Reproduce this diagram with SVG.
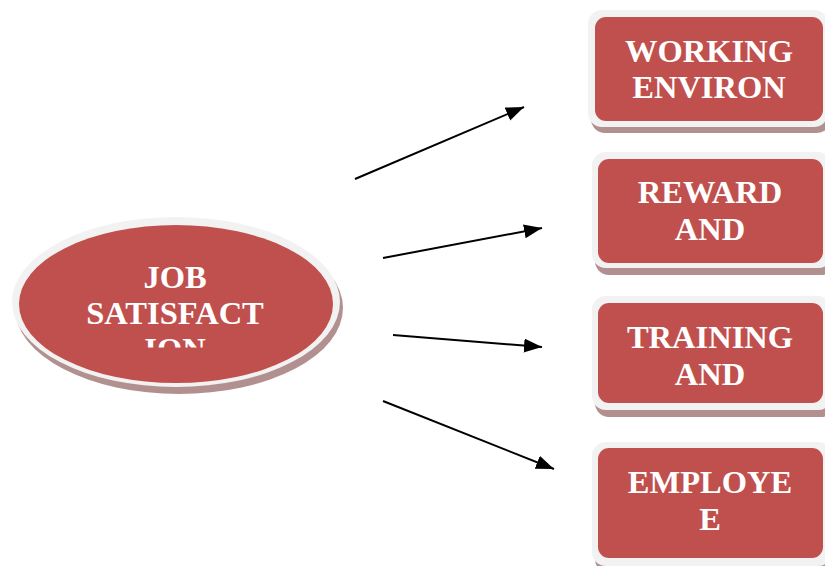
<svg xmlns="http://www.w3.org/2000/svg" width="825" height="566" viewBox="0 0 825 566">
<defs>
<style>
.sh{fill:#b39090}
.rim{fill:#f2f2f2}
.red{fill:#c0504d}
.t{font-family:"Liberation Serif","Times New Roman",serif;font-weight:bold;font-size:32.5px;fill:#ffffff;text-anchor:middle}
.c{stroke:#000;stroke-width:2;fill:none}
</style>
<marker id="ah" markerWidth="20" markerHeight="16" refX="18" refY="7" orient="auto" markerUnits="userSpaceOnUse">
<path d="M0,0 L18,7 L0,14 Z" fill="#000"/>
</marker>
<clipPath id="ec"><rect x="0" y="200" width="360" height="147.5"/></clipPath>
</defs>
<rect width="825" height="566" fill="#fff"/>
<g id="job-satisfaction">
<ellipse class="sh" cx="179" cy="308" rx="164" ry="86"/>
<ellipse class="rim" cx="176" cy="302" rx="164" ry="85"/>
<ellipse class="red" cx="176" cy="304" rx="157" ry="79"/>
<text class="t" x="175" y="288">JOB</text>
<text class="t" x="175" y="324">SATISFACT</text>
<text class="t" x="175" y="360" clip-path="url(#ec)">ION</text>
</g>
<g id="working-environ">
<rect class="sh" x="591" y="16" width="240" height="117" rx="14"/>
<rect class="rim" x="588" y="10" width="240" height="117" rx="14"/>
<rect class="red" x="595" y="17" width="228" height="104" rx="11"/>
<text class="t" x="709" y="62">WORKING</text>
<text class="t" x="709" y="98">ENVIRON</text>
</g>
<g id="reward-and">
<rect class="sh" x="595" y="158" width="240" height="117" rx="14"/>
<rect class="rim" x="592" y="152" width="240" height="116" rx="14"/>
<rect class="red" x="598" y="159" width="225" height="104" rx="11"/>
<text class="t" x="710" y="203">REWARD</text>
<text class="t" x="710" y="240">AND</text>
</g>
<g id="training-and">
<rect class="sh" x="595" y="302" width="240" height="115" rx="14"/>
<rect class="rim" x="592" y="296" width="240" height="114" rx="14"/>
<rect class="red" x="598" y="303" width="225" height="100" rx="11"/>
<text class="t" x="710" y="348">TRAINING</text>
<text class="t" x="710" y="385">AND</text>
</g>
<g id="employee">
<rect class="sh" x="595" y="448" width="240" height="125" rx="14"/>
<rect class="rim" x="592" y="442" width="240" height="124" rx="14"/>
<rect class="red" x="598" y="448" width="225" height="110" rx="11"/>
<text class="t" x="710" y="493">EMPLOYE</text>
<text class="t" x="710" y="530">E</text>
</g>
<g id="connectors">
<line class="c" x1="355" y1="179" x2="524" y2="107" marker-end="url(#ah)"/>
<line class="c" x1="383" y1="258" x2="542" y2="228" marker-end="url(#ah)"/>
<line class="c" x1="393" y1="335" x2="542" y2="347" marker-end="url(#ah)"/>
<line class="c" x1="383" y1="401" x2="554" y2="469" marker-end="url(#ah)"/>
</g>
</svg>
